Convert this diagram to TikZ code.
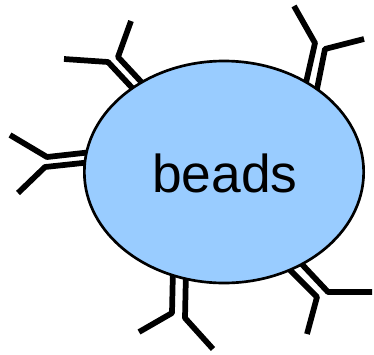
\documentclass[tikz,border=0pt]{standalone}
\usepackage{fontspec}
\setmainfont{Liberation Sans}
\usetikzlibrary{shapes.geometric}
\definecolor{beadblue}{HTML}{99CCFF}
\tikzset{
  arm/.style={draw=black,line width=4.3pt,line join=bevel},
  beadshape/.style={ellipse,draw=black,line width=2pt,fill=beadblue,inner sep=0pt,
    minimum width=209.5pt,minimum height=166.5pt},
  beadtext/.style={inner sep=0pt,font=\fontsize{40}{44}\selectfont}
}
\begin{document}
\begin{tikzpicture}[x=0.75pt,y=-0.75pt]
\useasboundingbox (0,0) rectangle (374,354);
% top left
\draw[arm] (136,92) -- (108,62) -- (64,59);
\draw[arm] (145,86) -- (118,57) -- (131,21);
% left
\draw[arm] (92,152) -- (47,157) -- (10,135);
\draw[arm] (92,162) -- (45,167) -- (18,193);
% top right
\draw[arm] (305,87) -- (315,43) -- (294,6);
\draw[arm] (316,94) -- (325,49) -- (364,39);
% bottom
\draw[arm] (173,268) -- (172,313) -- (139,332);
\draw[arm] (186,270) -- (185,318) -- (213,349);
% bottom right
\draw[arm] (284,264) -- (317,297) -- (307,334);
\draw[arm] (297,259) -- (328,292) -- (372,292);
\node[beadshape] (beads) at (224,172) {};
\node[beadtext] (beadslabel) at (225,173) {beads};
\end{tikzpicture}
\end{document}
